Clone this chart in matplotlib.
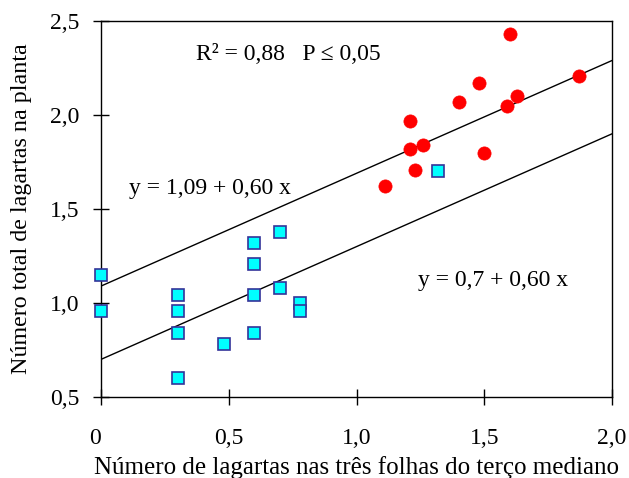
import matplotlib
matplotlib.use('Agg')
import matplotlib.pyplot as plt
import numpy as np

# blue squares
sq_x = [0.0, 0.0, 0.3, 0.3, 0.3, 0.3, 0.48, 0.6, 0.6, 0.6, 0.6, 0.7, 0.7, 0.78, 0.78, 1.32]
sq_y = [1.15, 0.96, 1.04, 0.96, 0.84, 0.60, 0.78, 1.32, 1.21, 1.04, 0.84, 1.38, 1.08, 1.00, 0.96, 1.70]

# red circles
rd_x = [1.60, 1.87, 1.48, 1.40, 1.63, 1.59, 1.21, 1.21, 1.26, 1.50, 1.23, 1.11]
rd_y = [2.43, 2.21, 2.17, 2.07, 2.10, 2.05, 1.97, 1.82, 1.84, 1.80, 1.71, 1.62]

# regression lines (intercept, slope)
line_upper = (1.09, 0.60)
line_lower = (0.70, 0.60)

x_ticks = [0, 0.5, 1.0, 1.5, 2.0]
x_ticklabels = ['0', '0,5', '1,0', '1,5', '2,0']
y_ticks = [0.5, 1.0, 1.5, 2.0, 2.5]
y_ticklabels = ['0,5', '1,0', '1,5', '2,0', '2,5']

plt.rcParams['font.family'] = ['Liberation Serif', 'DejaVu Serif']

FS = 17

fig = plt.figure(figsize=(6.29, 4.78), dpi=100)
ax = fig.add_axes([0.1606, 0.1695, 0.8124, 0.7865])

xs = np.array([0.0, 2.0])
for a, b in (line_upper, line_lower):
    ax.plot(xs, a + b * xs, color='black', lw=1.0, zorder=2)

ax.plot(sq_x, sq_y, linestyle='none', marker='s', ms=9, mfc='#00FFFF',
        mec='#333399', mew=1.2, zorder=3, clip_on=False)
ax.plot(rd_x, rd_y, linestyle='none', marker='o', ms=9.5, mfc='#FF0000',
        mec='#FF0000', mew=0.5, zorder=3)

ax.set_xlim(0, 2.0)
ax.set_ylim(0.5, 2.5)
ax.set_xticks(x_ticks)
ax.set_xticklabels(x_ticklabels)
ax.set_yticks(y_ticks)
ax.set_yticklabels(y_ticklabels)
ax.tick_params(direction='inout', length=11, width=1, labelsize=FS)
ax.tick_params(axis='x', pad=17)
ax.tick_params(axis='y', pad=10)
ax.get_xticklabels()[0].set_horizontalalignment('right')

for s in ax.spines.values():
    s.set_linewidth(1.0)

ax.set_xlabel('Número de lagartas nas três folhas do terço mediano', fontsize=18, labelpad=5)
ax.set_ylabel('Número total de lagartas na planta', fontsize=17.3, labelpad=13)

ax.text(0.37, 2.32, 'R² = 0,88   P ≤ 0,05', fontsize=FS, va='center')
ax.text(0.11, 1.61, 'y = 1,09 + 0,60 x', fontsize=FS, va='center')
ax.text(1.24, 1.12, 'y = 0,7 + 0,60 x', fontsize=FS, va='center')

fig.savefig('out.png', dpi=100)
